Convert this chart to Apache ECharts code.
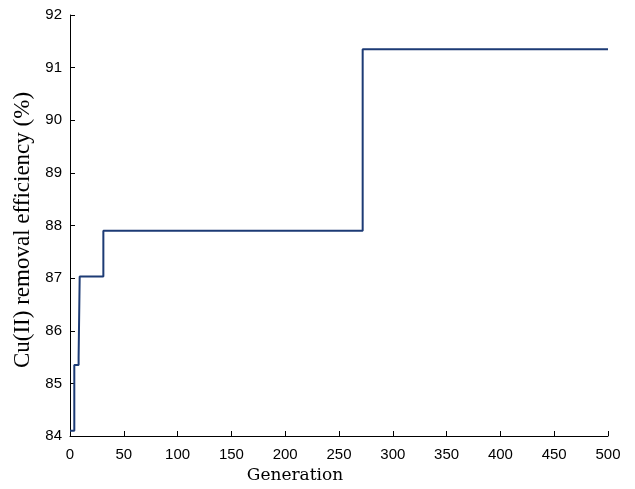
<!DOCTYPE html>
<html>
<head>
<meta charset="utf-8">
<script src="https://cdn.jsdelivr.net/npm/echarts@6/dist/echarts.min.js"></script>
<style>html,body{margin:0;padding:0;background:#fff;}#c{width:635px;height:489px;}</style>
</head>
<body>
<div id="c"></div>
<script>
const generations = [0, 4, 8, 9, 31, 272, 500];
const efficiency = [84.1, 85.35, 85.5, 87.03, 87.9, 91.35, 91.35];
const xTicks = [0, 50, 100, 150, 200, 250, 300, 350, 400, 450, 500];
const yTicks = [84, 85, 86, 87, 88, 89, 90, 91, 92];

const chart = echarts.init(document.getElementById('c'), null, {renderer: 'canvas'});
chart.setOption({
  animation: false,
  backgroundColor: '#fff',
  grid: {left: 70, right: 27, top: 15, bottom: 53, containLabel: false},
  xAxis: {
    type: 'value', min: xTicks[0], max: xTicks[xTicks.length - 1], interval: 50,
    name: 'Generation', nameLocation: 'middle', nameGap: 31,
    nameTextStyle: {fontFamily: 'DejaVu Serif', fontSize: 17, color: '#000', padding: [0, 88, 0, 0]},
    axisLine: {show: true, lineStyle: {color: '#000', width: 1}},
    axisTick: {show: true, inside: true, length: 5, lineStyle: {color: '#000'}},
    axisLabel: {fontFamily: 'Liberation Sans', fontSize: 15, color: '#000', margin: 11},
    splitLine: {show: false}
  },
  yAxis: {
    type: 'value', min: yTicks[0], max: yTicks[yTicks.length - 1], interval: 1,
    name: 'Cu(II) removal efficiency (%)', nameLocation: 'middle', nameGap: 34,
    nameTextStyle: {fontFamily: 'Liberation Serif', fontSize: 23, color: '#000', padding: [0, 9, 0, 0]},
    axisLine: {show: true, lineStyle: {color: '#000', width: 1}},
    axisTick: {show: true, inside: true, length: 5, lineStyle: {color: '#000'}},
    axisLabel: {fontFamily: 'Liberation Sans', fontSize: 15, color: '#000', margin: 8},
    splitLine: {show: false}
  },
  series: [{
    type: 'line', step: 'end', symbol: 'none',
    data: generations.map((g, i) => [g, efficiency[i]]),
    lineStyle: {color: '#1d3b75', width: 2}
  }]
});
</script>
</body>
</html>
